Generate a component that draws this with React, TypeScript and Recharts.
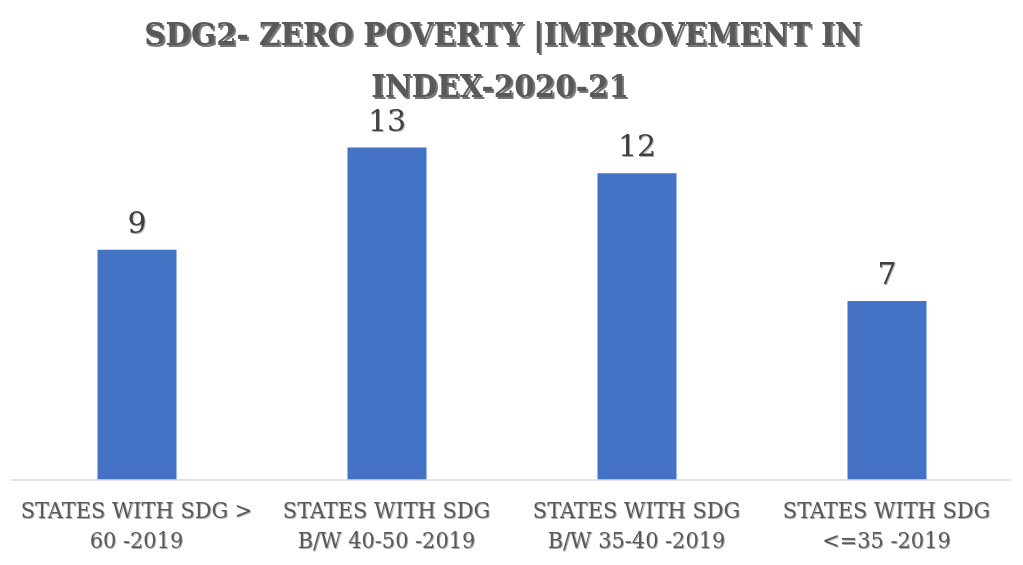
import React from "react";
import { BarChart, Bar, XAxis, YAxis, LabelList } from "recharts";

const titleLines = ["SDG2- ZERO POVERTY |IMPROVEMENT IN", "INDEX-2020-21"];
const categoryLine1 = ["STATES WITH SDG >", "STATES WITH SDG", "STATES WITH SDG", "STATES WITH SDG"];
const categoryLine2 = ["60 -2019", "B/W 40-50 -2019", "B/W 35-40 -2019", "<=35 -2019"];
const categoryKeys = ["c1", "c2", "c3", "c4"];
const improvementCounts = [9, 13, 12, 7];

const data = categoryKeys.map((k, i) => ({
  key: k,
  line1: categoryLine1[i],
  line2: categoryLine2[i],
  value: improvementCounts[i],
}));

const FONT = "'DejaVu Serif', 'Liberation Serif', serif";
const TEXT_COLOR = "#595959";
const SHADOW = "drop-shadow(1.5px 1.5px 0px rgba(120,120,120,0.6))";

const CategoryTick = (props: any) => {
  const { x, y, payload } = props;
  const idx = categoryKeys.indexOf(payload.value);
  const l1 = categoryLine1[idx];
  const l2 = categoryLine2[idx];
  return (
    <g transform={`translate(${x},${y})`}>
      <g transform="scale(0.95,1)">
        <text
          x={0}
          y={30}
          textAnchor="middle"
          fontFamily={FONT}
          fontSize={22}
          fill={TEXT_COLOR}
          style={{ filter: SHADOW }}
        >
          {l1}
        </text>
        <text
          x={0}
          y={60}
          textAnchor="middle"
          fontFamily={FONT}
          fontSize={22}
          fill={TEXT_COLOR}
          style={{ filter: SHADOW }}
        >
          {l2}
        </text>
      </g>
    </g>
  );
};

export default function App() {
  return (
    <div style={{ position: "absolute", left: 0, top: 0, width: 1023, height: 565, background: "#fff" }}>
      <svg
        width={1023}
        height={110}
        style={{ position: "absolute", left: 0, top: 0, pointerEvents: "none" }}
      >
        <g transform="translate(503,45) scale(0.95,1)">
          <text
            x={0}
            y={0}
            textAnchor="middle"
            fontFamily={FONT}
            fontWeight="bold"
            fontSize={31}
            fill={TEXT_COLOR}
            style={{ filter: "drop-shadow(2px 2px 0px rgba(60,60,60,0.7))" }}
          >
            {titleLines[0]}
          </text>
        </g>
        <g transform="translate(500,97) scale(0.95,1)">
          <text
            x={0}
            y={0}
            textAnchor="middle"
            fontFamily={FONT}
            fontWeight="bold"
            fontSize={31}
            fill={TEXT_COLOR}
            style={{ filter: "drop-shadow(2px 2px 0px rgba(60,60,60,0.7))" }}
          >
            {titleLines[1]}
          </text>
        </g>
      </svg>
      <BarChart
        width={1023}
        height={565}
        data={data}
        margin={{ top: 122, right: 11.5, bottom: 0, left: 11.5 }}
        barCategoryGap={0}
      >
        <XAxis
          dataKey="key"
          axisLine={{ stroke: "#d9d9d9", strokeWidth: 1.5 }}
          tickLine={false}
          height={85}
          interval={0}
          tick={<CategoryTick />}
        />
        <YAxis hide domain={[0, 14]} />
        <Bar dataKey="value" fill="#4472c4" barSize={79} isAnimationActive={false}>
          <LabelList
            dataKey="value"
            position="top"
            offset={17}
            fontFamily={FONT}
            fontSize={30}
            fill="#404040"
            style={{ filter: "drop-shadow(1px 1px 0px rgba(120,120,120,0.6))" }}
          />
        </Bar>
      </BarChart>
    </div>
  );
}
